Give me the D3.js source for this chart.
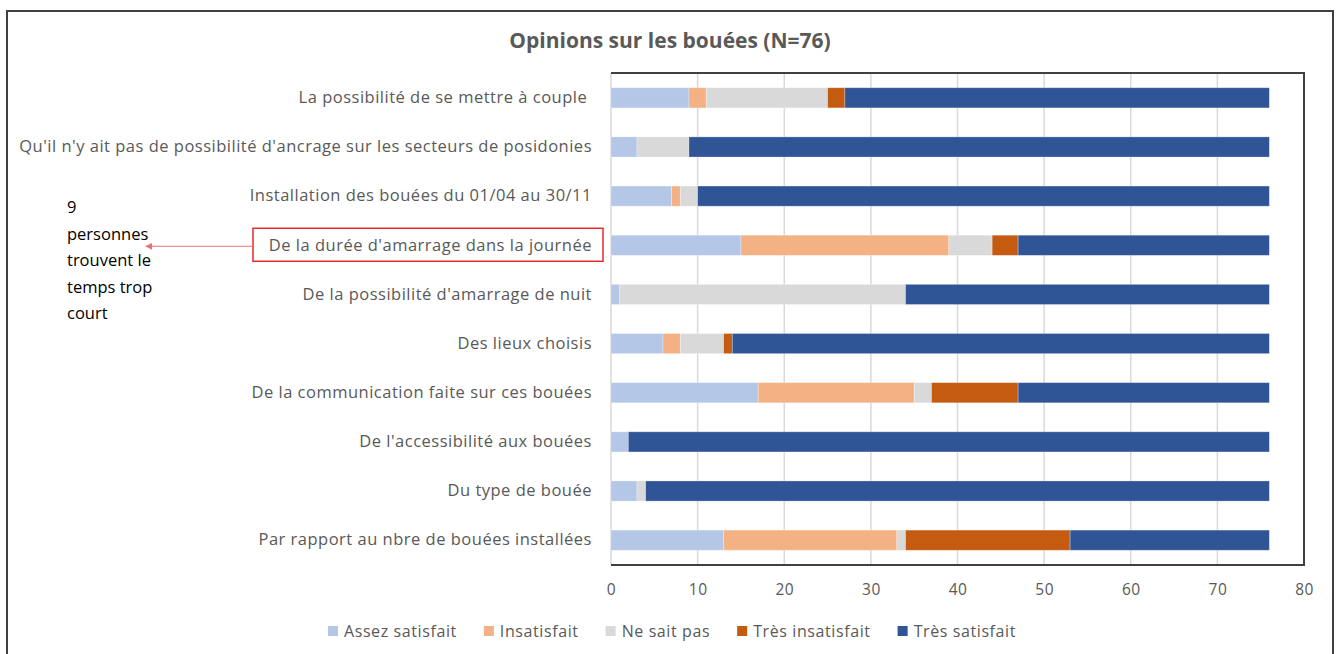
<!DOCTYPE html>
<html>
<head>
<meta charset="utf-8">
<script src="https://cdn.jsdelivr.net/npm/d3@7"></script>
<style>
  body { margin: 0; background: #fff; }
  svg { display: block; }
  text { font-family: "Open Sans", "Noto Sans", sans-serif; }
</style>
</head>
<body>
<script>
var categories = [
  "La possibilité de se mettre à couple ",
  "Qu'il n'y ait pas de possibilité d'ancrage sur les secteurs de posidonies",
  "Installation des bouées du 01/04 au 30/11",
  "De la durée d'amarrage dans la journée",
  "De la possibilité d'amarrage de nuit",
  "Des lieux choisis",
  "De la communication faite sur ces bouées",
  "De l'accessibilité aux bouées",
  "Du type de bouée",
  "Par rapport au nbre de bouées installées"
];
var seriesNames = ["Assez satisfait", "Insatisfait", "Ne sait pas", "Très insatisfait", "Très satisfait"];
var assezSatisfait  = [9, 3, 7, 15, 1, 6, 17, 2, 3, 13];
var insatisfait     = [2, 0, 1, 24, 0, 2, 18, 0, 0, 20];
var neSaitPas       = [14, 6, 2, 5, 33, 5, 2, 0, 1, 1];
var tresInsatisfait = [2, 0, 0, 3, 0, 1, 10, 0, 0, 19];
var tresSatisfait   = [49, 67, 66, 29, 42, 62, 29, 74, 72, 23];
var xTicks = [0, 10, 20, 30, 40, 50, 60, 70, 80];
var colors = ["#B4C7E7", "#F4B183", "#D9D9D9", "#C55A11", "#2F5597"];
var annotationLines = ["9", "personnes", "trouvent le", "temps trop", "court"];

var W = 1342, H = 654;
var svg = d3.select("body").append("svg").attr("width", W).attr("height", H);

// outer frame
svg.append("rect").attr("x", 7).attr("y", 11).attr("width", 1326).attr("height", 660)
  .attr("fill", "none").attr("stroke", "#404040").attr("stroke-width", 2);

svg.append("text").attr("x", 670).attr("y", 48).attr("text-anchor", "middle")
  .attr("font-size", 21).attr("font-weight", "bold").attr("fill", "#595959")
  .text("Opinions sur les bouées (N=76)");

var plotLeft = 611, plotRight = 1304, plotTop = 73, plotBottom = 565;
var x = d3.scaleLinear().domain([0, 80]).range([plotLeft, plotRight]);
var y = d3.scaleBand().domain(categories).range([plotTop, plotBottom]).paddingInner(0.59).paddingOuter(0.3);

// gridlines
svg.append("g").selectAll("line").data(xTicks).join("line")
  .attr("x1", d => x(d)).attr("x2", d => x(d))
  .attr("y1", plotTop).attr("y2", plotBottom)
  .attr("stroke", "#D9D9D9").attr("stroke-width", 1.5);

var rows = categories.map(function(c, i) {
  return { cat: c, vals: [assezSatisfait[i], insatisfait[i], neSaitPas[i], tresInsatisfait[i], tresSatisfait[i]] };
});
var segs = [];
rows.forEach(function(r) {
  var acc = 0;
  r.vals.forEach(function(v, k) {
    if (v > 0) segs.push({ cat: r.cat, x0: acc, x1: acc + v, k: k });
    acc += v;
  });
});
svg.append("g").selectAll("rect").data(segs).join("rect")
  .attr("x", d => x(d.x0)).attr("width", d => x(d.x1) - x(d.x0))
  .attr("y", d => y(d.cat)).attr("height", y.bandwidth())
  .attr("fill", d => colors[d.k])
  .attr("stroke", "rgba(255,255,255,0.35)").attr("stroke-width", 0.8);

// plot box (top, right, bottom)
svg.append("path")
  .attr("d", "M" + plotLeft + "," + plotTop + "H" + plotRight + "V" + plotBottom + "H" + plotLeft)
  .attr("fill", "none").attr("stroke", "#404040").attr("stroke-width", 2);

// x axis labels
var xAxis = d3.axisBottom(x).tickValues(xTicks).tickSize(0).tickPadding(19);
var gx = svg.append("g").attr("transform", "translate(0," + plotBottom + ")").call(xAxis);
gx.select(".domain").remove();
gx.selectAll("text").attr("font-size", 15.5).attr("letter-spacing", 0.5).attr("fill", "#595959")
  .attr("font-family", "'Open Sans', 'Noto Sans', sans-serif");

// category labels
var yAxis = d3.axisLeft(y).tickSize(0).tickPadding(19);
var gy = svg.append("g").attr("transform", "translate(" + plotLeft + ",0)").call(yAxis);
gy.select(".domain").remove();
gy.selectAll("text").attr("font-size", 16.5).attr("letter-spacing", 0.5).attr("fill", "#595959")
  .attr("font-family", "'Open Sans', 'Noto Sans', sans-serif")
  .style("white-space", "pre");

// annotation
var hl = y(categories[3]) + y.bandwidth() / 2;
svg.append("rect").attr("x", 253).attr("y", hl - 17).attr("width", 350).attr("height", 33)
  .attr("fill", "none").attr("stroke", "#E8282B").attr("stroke-width", 1.5);
svg.append("defs").append("marker").attr("id", "arr").attr("viewBox", "0 0 10 10")
  .attr("refX", 9).attr("refY", 5).attr("markerWidth", 6).attr("markerHeight", 6)
  .attr("orient", "auto-start-reverse")
  .append("path").attr("d", "M0,0L10,5L0,10z").attr("fill", "#F07070");
svg.append("line").attr("x1", 253).attr("x2", 146).attr("y1", hl + 1).attr("y2", hl + 1)
  .attr("stroke", "#F07070").attr("stroke-width", 1.2).attr("marker-end", "url(#arr)");
svg.append("g").selectAll("text").data(annotationLines).join("text")
  .attr("x", 67).attr("y", (d, i) => 213 + i * 26.5)
  .attr("font-size", 16.5).attr("fill", "#000").text(d => d);

// legend, laid out in sequence and centred like Excel does
var lgRoot = svg.append("g");
var lg = lgRoot.selectAll("g").data(seriesNames).join("g");
lg.append("rect").attr("x", 0).attr("y", -5).attr("width", 10).attr("height", 10)
  .attr("fill", (d, i) => colors[i]);
lg.append("text").attr("x", 16).attr("y", 6).attr("font-size", 16).attr("letter-spacing", 0.6)
  .attr("fill", "#595959").text(d => d);
var cursor = 0;
lg.each(function() {
  var w = d3.select(this).select("text").node().getComputedTextLength();
  d3.select(this).attr("transform", "translate(" + cursor + ",0)");
  cursor += 16 + w + 27;
});
cursor -= 27;
lgRoot.attr("transform", "translate(" + (672 - cursor / 2) + ",631)");
</script>
</body>
</html>
